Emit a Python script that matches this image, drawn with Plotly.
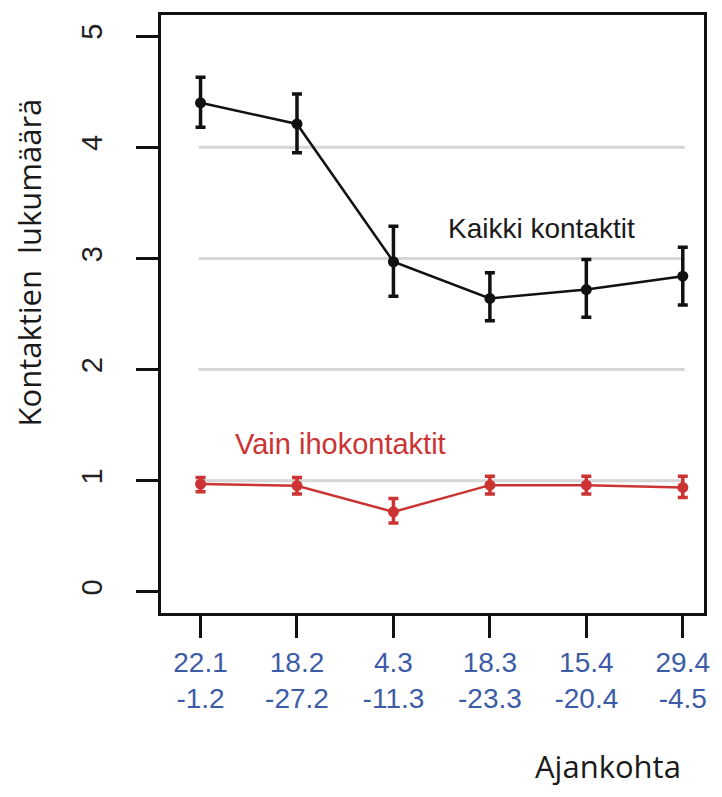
import plotly.graph_objects as go

# Data
x_pos = [0, 1, 2, 3, 4, 5]
tick_top = ["22.1", "18.2", "4.3", "18.3", "15.4", "29.4"]
tick_bottom = ["-1.2", "-27.2", "-11.3", "-23.3", "-20.4", "-4.5"]

all_mean = [4.40, 4.21, 2.97, 2.64, 2.72, 2.84]
all_upper = [4.63, 4.48, 3.29, 2.87, 2.99, 3.10]
all_lower = [4.18, 3.95, 2.66, 2.44, 2.47, 2.58]

skin_mean = [0.97, 0.955, 0.72, 0.96, 0.96, 0.94]
skin_upper = [1.03, 1.03, 0.84, 1.04, 1.04, 1.04]
skin_lower = [0.90, 0.88, 0.62, 0.88, 0.88, 0.85]

grid_levels = [1, 2, 3, 4]
y_ticks = [0, 1, 2, 3, 4, 5]

BLACK = "#111111"
RED = "#cc3333"
BLUE = "#3d5ca6"

# page offset (body margin) = 8px
OFF = 8
FIG_W = 722 - 2 * OFF
FIG_H = 797 - 2 * OFF
L = 161 - OFF
T = 12 - OFF
R = FIG_W - (707 - OFF)
B = FIG_H - (613 - OFF)

fig = go.Figure()

for g in grid_levels:
    fig.add_shape(type="line", xref="x", yref="y", x0=-0.02, x1=5.02, y0=g, y1=g,
                  line=dict(color="#d6d6d6", width=3), layer="below")

def add_series(mean, upper, lower, color):
    fig.add_trace(go.Scatter(
        x=x_pos, y=mean, mode="lines+markers",
        line=dict(color=color, width=2.5),
        marker=dict(color=color, size=11),
        error_y=dict(type="data", symmetric=False,
                     array=[u - m for u, m in zip(upper, mean)],
                     arrayminus=[m - l for m, l in zip(mean, lower)],
                     color=color, thickness=3.5, width=5),
        showlegend=False,
    ))

add_series(all_mean, all_upper, all_lower, BLACK)
add_series(skin_mean, skin_upper, skin_lower, RED)

fig.add_annotation(x=3.54, y=3.27, xref="x", yref="y", text="Kaikki kontaktit",
                   showarrow=False, font=dict(family="Liberation Sans, Arial", size=28, color="#1a1a1a"))
fig.add_annotation(x=1.45, y=1.33, xref="x", yref="y", text="Vain ihokontaktit",
                   showarrow=False, font=dict(family="Liberation Sans, Arial", size=29, color=RED))

plot_w = FIG_W - L - R
plot_h = FIG_H - T - B
fig.add_annotation(x=(610 - 161) / plot_w, y=-(767 - 613) / plot_h,
                   xref="x domain", yref="y domain", text="Ajankohta",
                   xanchor="center", yanchor="middle",
                   showarrow=False, font=dict(family="Open Sans", size=31, color="#1a1a1a"))
fig.add_annotation(x=(28 - 161) / plot_w, y=(613 - 261) / plot_h,
                   xref="x domain", yref="y domain", text="Kontaktien  lukumäärä",
                   textangle=-90, xanchor="center", yanchor="middle",
                   showarrow=False, font=dict(family="Open Sans", size=31, color="#1a1a1a"))

fig.update_layout(
    width=FIG_W, height=FIG_H,
    margin=dict(l=L, r=R, t=T, b=B),
    plot_bgcolor="white", paper_bgcolor="white",
    xaxis=dict(
        range=[-0.41, 5.22], tickmode="array", tickvals=x_pos,
        ticktext=[f"{a}<br>{b}" for a, b in zip(tick_top, tick_bottom)],
        ticks="outside", ticklen=22, tickwidth=3, tickcolor=BLACK,
        showline=True, linewidth=3, linecolor=BLACK, mirror=True,
        showgrid=False, zeroline=False,
        tickfont=dict(family="Liberation Sans, Arial", size=28, color=BLUE),
    ),
    yaxis=dict(
        range=[-0.19, 5.19], tickmode="array", tickvals=y_ticks,
        ticktext=[str(v) for v in y_ticks], tickangle=-90,
        ticks="outside", ticklen=22, tickwidth=3, tickcolor=BLACK,
        ticklabelstandoff=22,
        showline=True, linewidth=3, linecolor=BLACK, mirror=True,
        showgrid=False, zeroline=False,
        tickfont=dict(family="Liberation Sans, Arial", size=29, color="#222222"),
    ),
)

fig.write_html("out.html")
